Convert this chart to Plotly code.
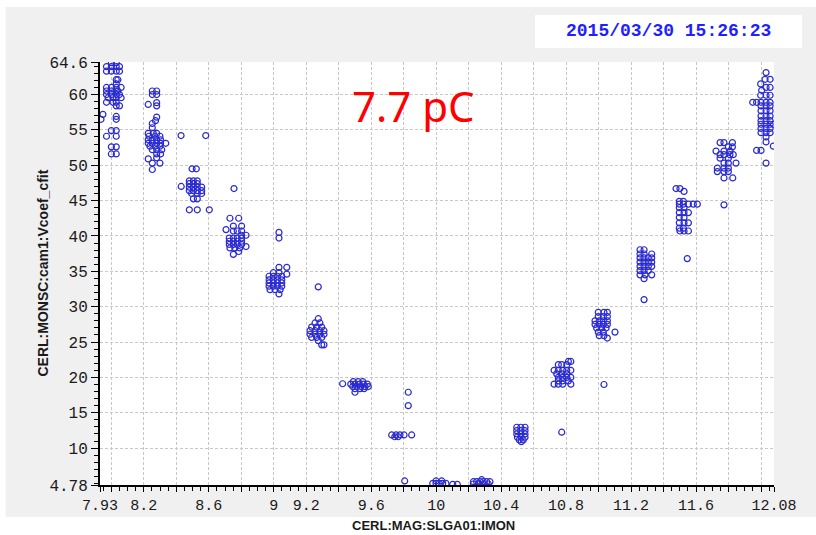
import plotly.graph_objects as go

# ---- data: rows of (y value, [x values]) per current setting ----
c_800 = [(64.5, [8.00, 8.03]), (63.95, [7.97, 8.00, 8.03, 8.05]), (63.3, [7.97, 8.00, 8.03, 8.05]),
         (62.1, [8.03, 8.04]), (61.5, [8.03]), (61.0, [7.97, 8.00, 8.03, 8.06]),
         (60.5, [7.97, 8.00, 8.03, 8.04]), (60.0, [7.97, 8.00, 8.03, 8.05]),
         (59.55, [7.98, 8.01, 8.03, 8.06]), (58.9, [7.97, 8.01, 8.03]), (58.4, [8.03, 8.05]),
         (57.2, [7.948]), (56.5, [7.936, 8.03]), (56.9, [8.03]), (54.9, [8.00, 8.03]),
         (54.1, [7.97, 8.03]), (52.6, [8.00, 8.03]), (51.6, [8.00, 8.03])]
c_825 = [(60.5, [8.252, 8.279]), (60.0, [8.252, 8.279]), (58.6, [8.227]), (58.85, [8.279]),
         (58.4, [8.279]), (56.8, [8.279]), (56.3, [8.272]), (55.9, [8.252]), (55.3, [8.252]),
         (54.5, [8.227, 8.258, 8.279]), (54.1, [8.232, 8.269, 8.299]),
         (53.6, [8.227, 8.252, 8.279, 8.303]), (53.1, [8.227, 8.252, 8.279, 8.303, 8.335]),
         (52.7, [8.238, 8.269, 8.299]), (52.2, [8.252, 8.279, 8.31]), (51.6, [8.279, 8.303]),
         (50.9, [8.227]), (51.05, [8.279]), (50.3, [8.252, 8.299]), (49.4, [8.252])]
c_840 = [(54.2, [8.429, 8.581])]
c_850 = [(49.5, [8.497, 8.523]), (47.8, [8.48, 8.505, 8.529]), (47.4, [8.48, 8.505, 8.529]),
         (47.0, [8.43]), (46.9, [8.48, 8.505, 8.529, 8.556]), (46.4, [8.48, 8.505, 8.529, 8.556]),
         (46.0, [8.494, 8.529, 8.556]), (45.25, [8.505, 8.529]), (43.7, [8.48, 8.529, 8.603])]
c_875 = [(46.7, [8.755]), (42.5, [8.73, 8.784]), (41.4, [8.751, 8.802]), (40.9, [8.706]),
         (40.7, [8.751, 8.775, 8.802]), (40.1, [8.802, 8.829]),
         (39.7, [8.726, 8.751, 8.775, 8.802]), (39.25, [8.726, 8.751, 8.775, 8.802]),
         (38.8, [8.726, 8.751, 8.775, 8.802]), (38.5, [8.829]), (38.3, [8.73, 8.76, 8.79]),
         (37.8, [8.784]), (37.4, [8.751])]
c_900 = [(40.5, [9.032]), (39.7, [9.032]), (35.56, [9.032, 9.08]), (34.8, [8.997, 9.032]),
         (34.6, [9.08]), (34.3, [8.971, 8.997, 9.022, 9.049]), (33.8, [8.971, 8.997, 9.022, 9.049]),
         (33.35, [8.971, 8.997, 9.022, 9.049]), (32.9, [8.971, 8.997, 9.022, 9.049]),
         (32.4, [8.977, 9.008, 9.039]), (31.8, [9.032])]
c_925 = [(32.8, [9.274]), (28.3, [9.274]), (27.7, [9.254, 9.284]), (27.1, [9.233, 9.264, 9.295]),
         (26.6, [9.223, 9.254, 9.284, 9.309]), (26.1, [9.223, 9.254, 9.284, 9.309]),
         (25.65, [9.233, 9.264, 9.295]), (25.2, [9.274]), (24.6, [9.295, 9.309])]
c_950 = [(19.1, [9.424]), (19.4, [9.49, 9.52, 9.548]), (19.04, [9.474, 9.50, 9.527, 9.552, 9.576]),
         (18.7, [9.486, 9.511, 9.535, 9.562, 9.582]), (18.4, [9.50, 9.531, 9.556]), (17.9, [9.50])]
c_975 = [(17.9, [9.828]), (16.0, [9.828]), (11.86, [9.726, 9.753, 9.777, 9.802, 9.849]),
         (11.6, [9.745, 9.766]), (5.35, [9.806])]
c_1000 = [(5.02, [9.979, 9.999, 10.019, 10.04, 10.06]), (5.35, [9.999, 10.034]),
          (4.88, [10.102, 10.13])]
c_1025 = [(5.25, [10.229, 10.249, 10.27, 10.29, 10.311, 10.331]), (5.53, [10.28]),
          (4.92, [10.229, 10.26, 10.29, 10.321])]
c_1050 = [(12.95, [10.496, 10.521, 10.547]), (12.47, [10.496, 10.521, 10.547]),
          (12.0, [10.496, 10.521, 10.547]), (11.54, [10.5, 10.524, 10.547]),
          (11.15, [10.512, 10.536]), (10.9, [10.524])]
c_1075 = [(12.25, [10.773]), (22.25, [10.814, 10.829]), (21.8, [10.752, 10.773, 10.804]),
          (21.0, [10.726, 10.752, 10.779, 10.804, 10.829]), (20.5, [10.742, 10.773, 10.804]),
          (20.0, [10.752, 10.779, 10.804, 10.829]), (19.5, [10.752, 10.779, 10.814]),
          (19.04, [10.726, 10.752, 10.779, 10.829])]
c_1100 = [(18.99, [11.033]), (29.2, [10.998, 11.033, 11.054]), (28.6, [10.998, 11.029, 11.054]),
          (28.0, [10.978, 11.004, 11.029, 11.054]), (27.5, [10.978, 11.004, 11.029, 11.054]),
          (27.0, [10.988, 11.019, 11.046]), (26.4, [10.998, 11.029, 11.101]),
          (25.9, [11.004, 11.033]), (25.56, [11.054])]
c_1125 = [(31.0, [11.28]), (38.05, [11.255, 11.28]), (37.45, [11.255, 11.28, 11.327]),
          (36.9, [11.255, 11.28, 11.306, 11.327]), (36.3, [11.255, 11.28, 11.306, 11.327]),
          (35.7, [11.255, 11.28, 11.306, 11.327]), (35.1, [11.255, 11.28, 11.306]),
          (34.5, [11.255, 11.286, 11.327]), (33.96, [11.28])]
c_1150 = [(46.7, [11.477, 11.501]), (46.3, [11.526]), (44.9, [11.497, 11.522]),
          (44.5, [11.497, 11.522, 11.553, 11.583, 11.608]), (44.0, [11.497, 11.526]),
          (43.3, [11.497, 11.526, 11.553]), (42.6, [11.497, 11.526]),
          (41.85, [11.497, 11.526, 11.553]), (41.1, [11.497, 11.522]),
          (40.7, [11.501, 11.526, 11.553]), (36.8, [11.546])]
c_1175 = [(44.4, [11.772]), (53.2, [11.748, 11.772, 11.824]), (52.6, [11.799, 11.824]),
          (52.0, [11.723, 11.772, 11.809]), (51.5, [11.748, 11.772, 11.809, 11.829]),
          (51.0, [11.748, 11.799]), (50.3, [11.772, 11.799, 11.846]),
          (49.6, [11.731, 11.772, 11.799]), (49.1, [11.731, 11.772, 11.799]),
          (48.2, [11.772, 11.826])]
c_1200 = [(63.1, [12.031]), (62.15, [12.025, 12.056]), (61.5, [11.998]), (61.0, [12.031, 12.056]),
          (60.6, [12.004]), (59.9, [11.998, 12.031, 12.056]),
          (58.9, [11.949, 11.973, 12.0, 12.031, 12.056]), (58.4, [12.0, 12.031, 12.056]),
          (57.7, [12.0, 12.031, 12.056]), (56.95, [12.0, 12.031, 12.056]),
          (56.3, [12.0, 12.031, 12.056]), (55.8, [12.0, 12.031, 12.056, 12.076]),
          (55.2, [12.0, 12.031, 12.056]), (54.6, [12.0, 12.031, 12.056]), (54.0, [12.031]),
          (53.3, [12.031]), (52.7, [12.076]), (52.1, [11.973, 12.0]), (50.3, [12.031])]

clusters = [c_800, c_825, c_840, c_850, c_875, c_900, c_925, c_950, c_975, c_1000,
            c_1025, c_1050, c_1075, c_1100, c_1125, c_1150, c_1175, c_1200]

# ---- axis ticks ----
x_tickvals = [7.93, 8.0, 8.2, 8.4, 8.6, 8.8, 9.0, 9.2, 9.4, 9.6, 9.8, 10.0, 10.2, 10.4, 10.6,
              10.8, 11.0, 11.2, 11.4, 11.6, 11.8, 12.0, 12.08]
x_ticktext = ["7.93", "", "8.2", "", "8.6", "", "9", "9.2", "", "9.6", "", "10", "", "10.4", "",
              "10.8", "", "11.2", "", "11.6", "", "", "12.08"]
y_tickvals = [4.78, 10, 15, 20, 25, 30, 35, 40, 45, 50, 55, 60, 64.6]
y_ticktext = ["4.78", "10", "15", "20", "25", "30", "35", "40", "45", "50", "55", "60", "64.6"]

xs, ys = [], []
for cl in clusters:
    for yv, xrow in cl:
        for xv in xrow:
            xs.append(xv)
            ys.append(yv)

fig = go.Figure()
fig.add_trace(go.Scatter(
    x=xs, y=ys, mode="markers",
    marker=dict(symbol="circle-open", size=6, color="#2a2acf", line=dict(width=1.2, color="#2a2acf")),
    showlegend=False, hoverinfo="skip"))

tickfont = dict(family="Liberation Mono, DejaVu Sans Mono, monospace", size=16, color="#1a1a1a")
xtickfont = dict(family="Liberation Mono, DejaVu Sans Mono, monospace", size=15, color="#1a1a1a")
gridstyle = dict(showgrid=True, gridcolor="#c8c8c8", griddash="3px,2px", gridwidth=1)

fig.update_xaxes(range=[7.93, 12.08], tickmode="array", tickvals=x_tickvals, ticktext=x_ticktext,
                 ticks="outside", ticklen=5, tickwidth=1, tickcolor="black",
                 showline=True, linecolor="black", linewidth=2, zeroline=False,
                 tickfont=xtickfont, **gridstyle,
                 minor=dict(tickmode="linear", tick0=8.0, dtick=0.05, ticks="outside", ticklen=4,
                            tickwidth=1, tickcolor="black", showgrid=False))
fig.update_yaxes(range=[4.78, 64.6], tickmode="array", tickvals=y_tickvals, ticktext=y_ticktext,
                 ticks="outside", ticklen=7, tickwidth=1, tickcolor="black",
                 showline=True, linecolor="black", linewidth=2, zeroline=False,
                 tickfont=tickfont, **gridstyle,
                 minor=dict(tickmode="linear", tick0=0, dtick=1, ticks="outside", ticklen=4,
                            tickwidth=1, tickcolor="black", showgrid=False))

shapes = [
    dict(type="rect", xref="paper", yref="paper", x0=-0.14, x1=1.08, y0=-0.0757, y1=1.13,
         fillcolor="#f0f0f0", line=dict(width=0), layer="below"),
    dict(type="rect", xref="paper", yref="paper", x0=0, x1=1, y0=0, y1=1,
         fillcolor="white", line=dict(width=0), layer="below"),
    dict(type="rect", xref="paper", yref="paper", x0=0.6454, x1=1.0415, y0=1.0331, y1=1.1111,
         fillcolor="white", line=dict(width=0), layer="below"),
]

annotations = [
    dict(text="7.7 pC", xref="paper", yref="paper", x=0.4644, y=0.896, showarrow=False,
         xanchor="center", yanchor="middle",
         font=dict(family="Noto Sans, Open Sans, sans-serif", size=42, color="#ff0000")),
    dict(text="<b>2015/03/30 15:26:23</b>", xref="paper", yref="paper", x=0.843, y=1.0733,
         showarrow=False, xanchor="center", yanchor="middle",
         font=dict(family="Liberation Mono, DejaVu Sans Mono, monospace", size=18, color="#1f1fff")),
    dict(text="<b>CERL:MAG:SLGA01:IMON</b>", xref="paper", yref="paper", x=0.4955, y=-0.0965,
         showarrow=False, xanchor="center", yanchor="middle",
         font=dict(family="Liberation Sans, Arial, sans-serif", size=13, color="#1a1a1a")),
    dict(text="<b>CERL:MONSC:cam1:Vcoef_cfit</b>", xref="paper", yref="paper", x=-0.086, y=0.5,
         showarrow=False, xanchor="center", yanchor="middle", textangle=-90,
         font=dict(family="Liberation Sans, Arial, sans-serif", size=14, color="#1a1a1a")),
]

fig.update_layout(width=816, height=535, autosize=False,
                  margin=dict(l=100, r=42, t=62, b=50),
                  paper_bgcolor="white", plot_bgcolor="white",
                  shapes=shapes, annotations=annotations)

fig.write_html("out.html")
